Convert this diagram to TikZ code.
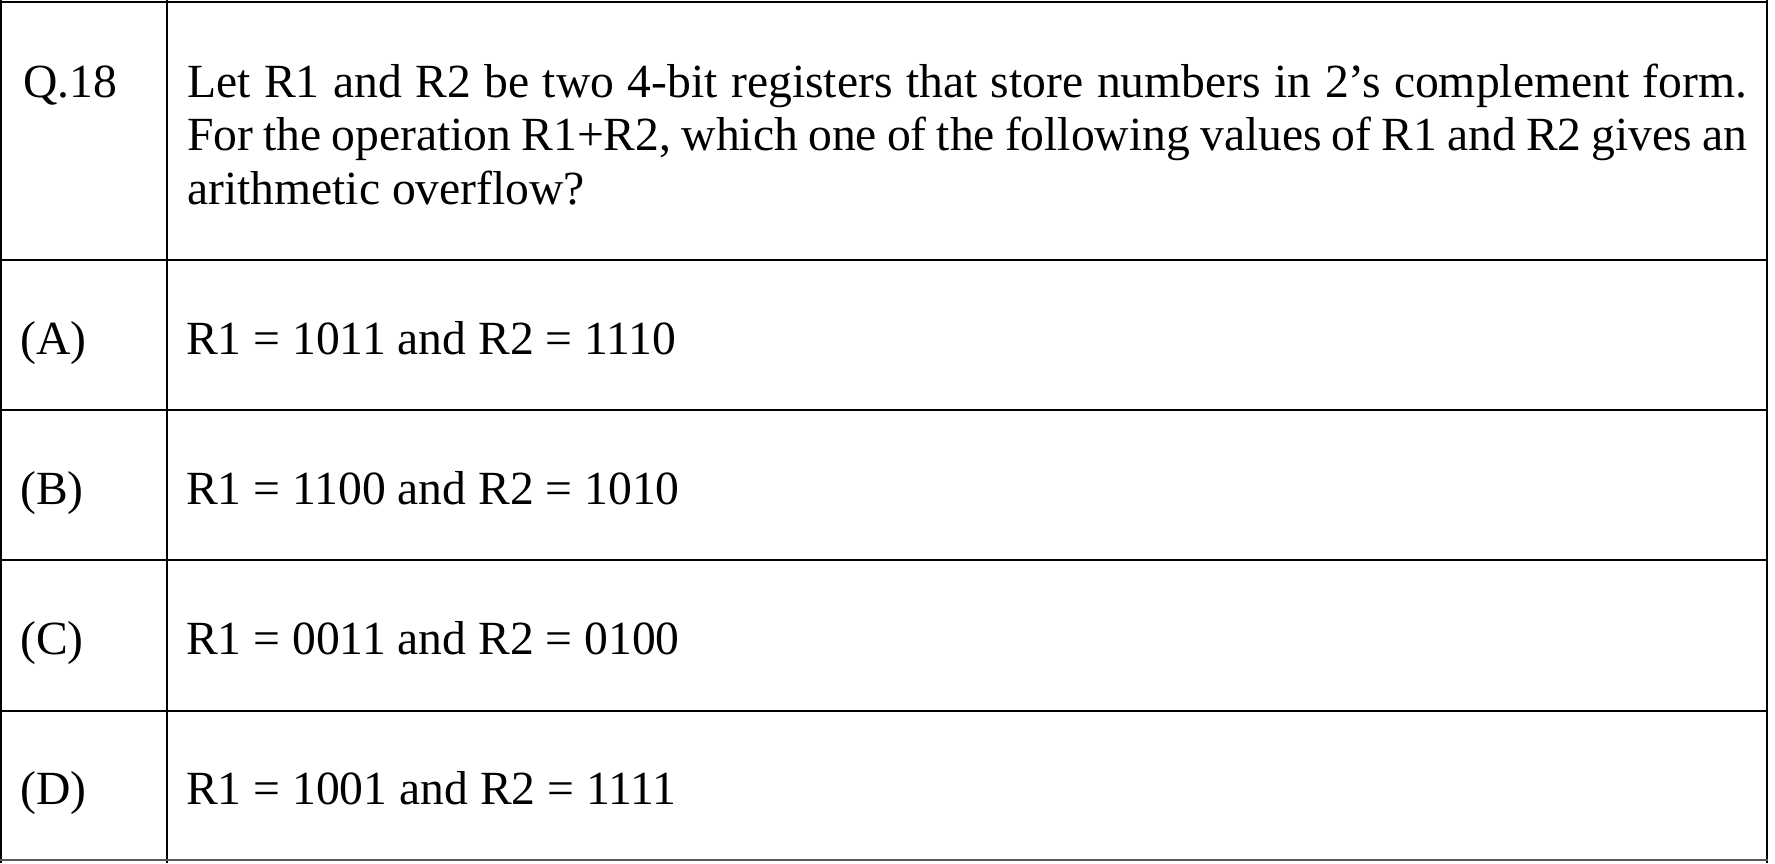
\documentclass[tikz,border=0pt]{standalone}
\usepackage{fontspec}
\setmainfont{Liberation Serif}
\begin{document}
\begin{tikzpicture}[x=1pt,y=-1pt,
  gridline/.style={line width=2pt, black},
  lastline/.style={line width=1.8pt, black!65},
  txt/.style={anchor=base west, inner sep=0pt, font=\fontsize{47.6}{53.6}\selectfont},
  qtext/.style={txt, text width=1560pt, align=justify}]
\useasboundingbox (0,0) rectangle (1775,863);
\fill[white] (0,0) rectangle (1775,863);
% grid
\draw[gridline] (1,0) -- (1,863);
\draw[gridline] (167,0) -- (167,863);
\draw[gridline] (1767,0) -- (1767,863);
\draw[gridline] (0,2) -- (1768,2);
\draw[gridline] (0,260) -- (1768,260);
\draw[gridline] (0,410) -- (1768,410);
\draw[gridline] (0,560) -- (1768,560);
\draw[gridline] (0,711) -- (1768,711);
\draw[lastline] (0,860) -- (1768,860);
% texts
\node[txt] (qn) at (23,97) {Q.18};
\node[qtext] (q) at (187,97) {\noindent Let R1 and R2 be two 4-bit registers that store numbers in 2’s complement form.\linebreak For the operation R1+R2, which one of the following values of R1 and R2 gives an\linebreak arithmetic overflow?};
\node[txt] (la) at (20,354) {(A)};
\node[txt] (oa) at (186,354) {R1 = 1011 and R2 = 1110};
\node[txt] (lb) at (20,504) {(B)};
\node[txt] (ob) at (186,504) {R1 = 1100 and R2 = 1010};
\node[txt] (lc) at (20,654) {(C)};
\node[txt] (oc) at (186,654) {R1 = 0011 and R2 = 0100};
\node[txt] (ld) at (20,804) {(D)};
\node[txt] (od) at (186,804) {R1 = 1001 and R2 = 1111};
\end{tikzpicture}
\end{document}
